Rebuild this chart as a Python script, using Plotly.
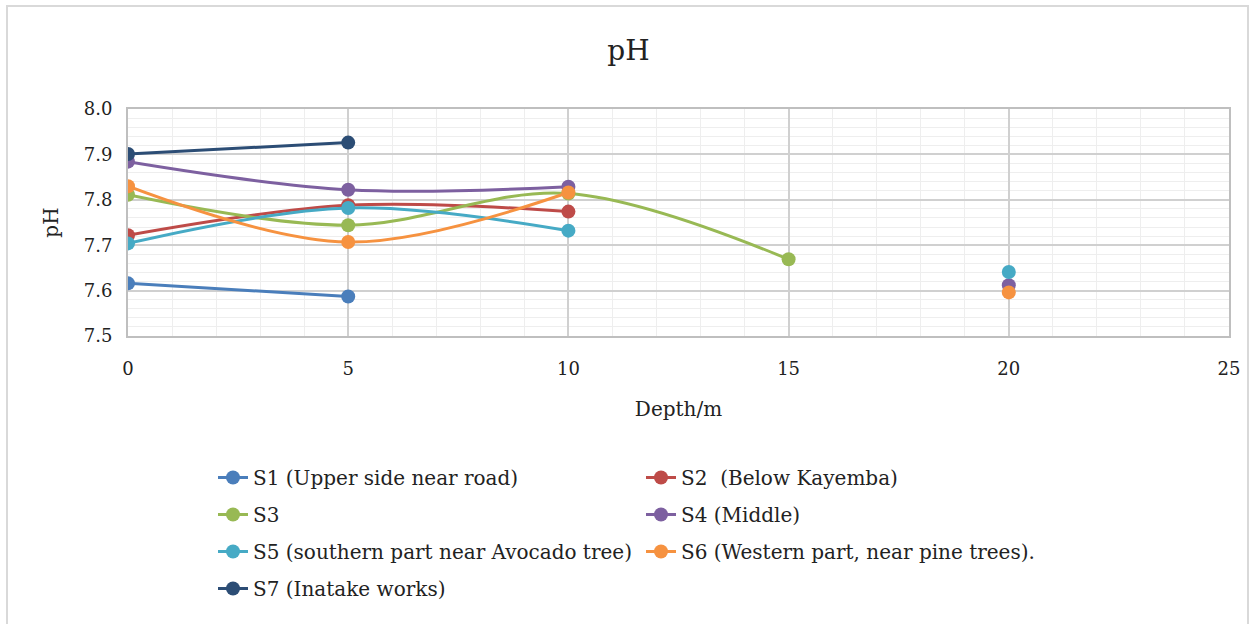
import plotly.graph_objects as go

depth = [0, 5, 10, 15, 20]
names = ["S1 (Upper side near road)", "S2  (Below Kayemba)", "S3", "S4 (Middle)",
         "S5 (southern part near Avocado tree)", "S6 (Western part, near pine trees).",
         "S7 (Inatake works)"]
s1 = [7.616, 7.587, None, None, None]
s2 = [7.722, 7.788, 7.774, None, None]
s3 = [7.811, 7.744, 7.814, 7.669, None]
s4 = [7.884, 7.822, 7.829, None, 7.612]
s5 = [7.704, 7.782, 7.732, None, 7.641]
s6 = [7.830, 7.707, 7.816, None, 7.596]
s7 = [7.901, 7.926, None, None, None]
series = [s1, s2, s3, s4, s5, s6, s7]
colors = ["#4A7EBB", "#BE4B48", "#98B954", "#7D60A0", "#46AAC5", "#F69240", "#2C4D75"]
legend_of = ["legend", "legend2", "legend", "legend2", "legend", "legend2", "legend"]

FONT = "DejaVu Serif"
fig = go.Figure()
for i, (nm, ys) in enumerate(zip(names, series)):
    fig.add_trace(go.Scatter(
        x=depth, y=ys, name=nm, mode="lines+markers",
        line=dict(color=colors[i], width=3, shape="spline", smoothing=1),
        marker=dict(color=colors[i], size=14),
        connectgaps=False, legend=legend_of[i], legendgroup=f"g{i}",
    ))

W, H = 1257, 624
L, R, T, B = 128, 28, 109, 288
pw, ph = W - L - R, H - T - B

def px(x):
    return (x - L) / pw

def py(y):
    return (H - B - y) / ph

fig.update_layout(
    width=W, height=H,
    margin=dict(l=L, r=R, t=T, b=B, autoexpand=False),
    paper_bgcolor="white", plot_bgcolor="white",
    font=dict(family=FONT, size=18, color="#222222"),
    title=dict(text="pH", x=0.5, xanchor="center", y=1 - 50 / H, yanchor="middle",
               font=dict(family=FONT, size=28, color="#222222")),
    xaxis=dict(range=[0, 25], tickvals=[0, 5, 10, 15, 20, 25], showgrid=True,
               gridcolor="#d0d0d0", gridwidth=1.5,
               minor=dict(dtick=1, showgrid=True, gridcolor="#eeeeee", gridwidth=1),
               showline=True, linecolor="#bfbfbf", linewidth=2, mirror=True,
               zeroline=False, ticks="", ticklabelstandoff=15,
               title=dict(text="Depth/m", font=dict(family=FONT, size=20), standoff=24),
               tickfont=dict(family=FONT, size=18)),
    yaxis=dict(range=[7.5, 8.0], dtick=0.1, tickformat=".1f", showgrid=True,
               gridcolor="#d0d0d0", gridwidth=1.5,
               minor=dict(dtick=0.02, showgrid=True, gridcolor="#eeeeee", gridwidth=1),
               showline=True, linecolor="#bfbfbf", linewidth=2, mirror=True,
               zeroline=False, ticks="", ticklabelstandoff=10,
               title=dict(text="pH", font=dict(family=FONT, size=20), standoff=20),
               tickfont=dict(family=FONT, size=18)),
    legend=dict(x=px(213), y=py(458), xanchor="left", yanchor="top",
                orientation="v", tracegroupgap=8, font=dict(family=FONT, size=20),
                bgcolor="rgba(0,0,0,0)"),
    legend2=dict(x=px(641), y=py(458), xanchor="left", yanchor="top",
                 orientation="v", tracegroupgap=8, font=dict(family=FONT, size=20),
                 bgcolor="rgba(0,0,0,0)"),
    showlegend=True,
    shapes=[dict(type="rect", xref="paper", yref="paper",
                 x0=px(7), x1=px(1248), y0=py(640), y1=py(6),
                 line=dict(color="#d9d9d9", width=2), fillcolor="rgba(0,0,0,0)", layer="below")],
)

fig.write_html("out.html")
